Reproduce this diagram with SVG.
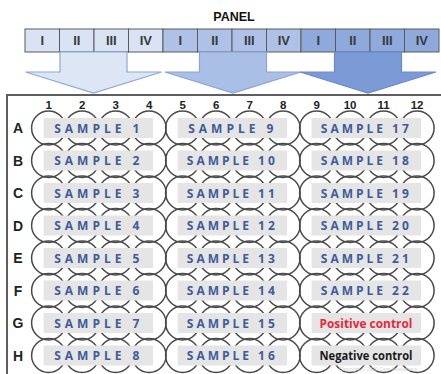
<svg xmlns="http://www.w3.org/2000/svg" width="441" height="374" viewBox="0 0 441 374">
<style>
.cell{stroke:#5a5a5a;stroke-width:1}
.c1{fill:#dae3f3}.c2{fill:#adc2e6}.c3{fill:#8ea9db}
.rn{font-family:"Liberation Sans",Arial,sans-serif;font-size:13px;font-weight:700;fill:#3a3a3a;text-anchor:middle}
.title{font-family:"Liberation Sans",Arial,sans-serif;font-size:12.5px;font-weight:700;fill:#111;text-anchor:middle}
.col{font-family:"Liberation Sans",Arial,sans-serif;font-size:11.5px;font-weight:700;fill:#222;text-anchor:middle}
.row{font-family:"Liberation Sans",Arial,sans-serif;font-size:14px;font-weight:700;fill:#222;text-anchor:middle}
.well{fill:none;stroke:#4a4a4a;stroke-width:1.5}
.lab{fill:#e5e5e5}
.st{font-family:"Open Sans","Liberation Sans",sans-serif;font-size:12px;font-weight:700;fill:#3e5c9c;text-anchor:middle}
.pos{font-family:"Open Sans","Liberation Sans",sans-serif;font-size:12.5px;font-weight:700;fill:#e8283a;text-anchor:middle}
.neg{font-family:"Open Sans","Liberation Sans",sans-serif;font-size:12.5px;font-weight:700;fill:#1a1a1a;text-anchor:middle}
.arr{stroke-width:1.2}
</style>
<defs>
<circle id="w" r="17" class="well"/>
</defs>
<rect width="441" height="374" fill="#fff"/>
<text class="title" x="234" y="21">PANEL</text>
<g id="panel-bar">
<rect class="cell c1" x="25" y="29" width="34.5" height="23"/>
<rect class="cell c1" x="59.5" y="29" width="34.5" height="23"/>
<rect class="cell c1" x="94" y="29" width="34.5" height="23"/>
<rect class="cell c1" x="128.5" y="29" width="34.5" height="23"/>
<rect class="cell c2" x="163" y="29" width="34.5" height="23"/>
<rect class="cell c2" x="197.5" y="29" width="34.5" height="23"/>
<rect class="cell c2" x="232" y="29" width="34.5" height="23"/>
<rect class="cell c2" x="266.5" y="29" width="34.5" height="23"/>
<rect class="cell c3" x="301" y="29" width="34.5" height="23"/>
<rect class="cell c3" x="335.5" y="29" width="34.5" height="23"/>
<rect class="cell c3" x="370" y="29" width="34.5" height="23"/>
<rect class="cell c3" x="404.5" y="29" width="34.5" height="23"/>
<text class="rn" x="42.3" y="45">I</text>
<text class="rn" x="76.8" y="45">II</text>
<text class="rn" x="111.3" y="45">III</text>
<text class="rn" x="145.8" y="45">IV</text>
<text class="rn" x="180.3" y="45">I</text>
<text class="rn" x="214.8" y="45">II</text>
<text class="rn" x="249.3" y="45">III</text>
<text class="rn" x="283.8" y="45">IV</text>
<text class="rn" x="318.3" y="45">I</text>
<text class="rn" x="352.8" y="45">II</text>
<text class="rn" x="387.3" y="45">III</text>
<text class="rn" x="421.8" y="45">IV</text>
</g>
<g id="connectors">
<path class="arr" fill="#dce6f5" stroke="#8ea8d8" d="M60,52 L127,52 L127,72 L161.5,72 L93.5,93 L25.5,72 L60,72 Z"/>
<path class="arr" fill="#a9bfe6" stroke="#89a4d6" d="M199.5,52 L266.5,52 L266.5,72 L301,72 L233,93 L165,72 L199.5,72 Z"/>
<path class="arr" fill="#7b9ad6" stroke="#6b8bcb" d="M334.5,52 L401.5,52 L401.5,72 L436,72 L368,93 L300,72 L334.5,72 Z"/>
</g>
<rect x="7" y="95" width="440" height="300" fill="none" stroke="#5e5e5e" stroke-width="2"/>
<g id="col-numbers">
<text class="col" x="48.6" y="109">1</text>
<text class="col" x="82.1" y="109">2</text>
<text class="col" x="115.6" y="109">3</text>
<text class="col" x="149.1" y="109">4</text>
<text class="col" x="182.6" y="109">5</text>
<text class="col" x="216.1" y="109">6</text>
<text class="col" x="249.6" y="109">7</text>
<text class="col" x="283.1" y="109">8</text>
<text class="col" x="316.6" y="109">9</text>
<text class="col" x="350.1" y="109">10</text>
<text class="col" x="383.6" y="109">11</text>
<text class="col" x="417.1" y="109">12</text>
</g>
<g id="row-letters">
<text class="row" x="18" y="133">A</text>
<text class="row" x="18" y="165.5">B</text>
<text class="row" x="18" y="198">C</text>
<text class="row" x="18" y="230.5">D</text>
<text class="row" x="18" y="263">E</text>
<text class="row" x="18" y="295.5">F</text>
<text class="row" x="18" y="328">G</text>
<text class="row" x="18" y="360.5">H</text>
</g>
<g id="wells">
<g transform="translate(0,128)"><use href="#w" x="48.6"/><use href="#w" x="82.1"/><use href="#w" x="115.6"/><use href="#w" x="149.1"/><use href="#w" x="182.6"/><use href="#w" x="216.1"/><use href="#w" x="249.6"/><use href="#w" x="283.1"/><use href="#w" x="316.6"/><use href="#w" x="350.1"/><use href="#w" x="383.6"/><use href="#w" x="417.1"/></g>
<g transform="translate(0,160.5)"><use href="#w" x="48.6"/><use href="#w" x="82.1"/><use href="#w" x="115.6"/><use href="#w" x="149.1"/><use href="#w" x="182.6"/><use href="#w" x="216.1"/><use href="#w" x="249.6"/><use href="#w" x="283.1"/><use href="#w" x="316.6"/><use href="#w" x="350.1"/><use href="#w" x="383.6"/><use href="#w" x="417.1"/></g>
<g transform="translate(0,193)"><use href="#w" x="48.6"/><use href="#w" x="82.1"/><use href="#w" x="115.6"/><use href="#w" x="149.1"/><use href="#w" x="182.6"/><use href="#w" x="216.1"/><use href="#w" x="249.6"/><use href="#w" x="283.1"/><use href="#w" x="316.6"/><use href="#w" x="350.1"/><use href="#w" x="383.6"/><use href="#w" x="417.1"/></g>
<g transform="translate(0,225.5)"><use href="#w" x="48.6"/><use href="#w" x="82.1"/><use href="#w" x="115.6"/><use href="#w" x="149.1"/><use href="#w" x="182.6"/><use href="#w" x="216.1"/><use href="#w" x="249.6"/><use href="#w" x="283.1"/><use href="#w" x="316.6"/><use href="#w" x="350.1"/><use href="#w" x="383.6"/><use href="#w" x="417.1"/></g>
<g transform="translate(0,258)"><use href="#w" x="48.6"/><use href="#w" x="82.1"/><use href="#w" x="115.6"/><use href="#w" x="149.1"/><use href="#w" x="182.6"/><use href="#w" x="216.1"/><use href="#w" x="249.6"/><use href="#w" x="283.1"/><use href="#w" x="316.6"/><use href="#w" x="350.1"/><use href="#w" x="383.6"/><use href="#w" x="417.1"/></g>
<g transform="translate(0,290.5)"><use href="#w" x="48.6"/><use href="#w" x="82.1"/><use href="#w" x="115.6"/><use href="#w" x="149.1"/><use href="#w" x="182.6"/><use href="#w" x="216.1"/><use href="#w" x="249.6"/><use href="#w" x="283.1"/><use href="#w" x="316.6"/><use href="#w" x="350.1"/><use href="#w" x="383.6"/><use href="#w" x="417.1"/></g>
<g transform="translate(0,323)"><use href="#w" x="48.6"/><use href="#w" x="82.1"/><use href="#w" x="115.6"/><use href="#w" x="149.1"/><use href="#w" x="182.6"/><use href="#w" x="216.1"/><use href="#w" x="249.6"/><use href="#w" x="283.1"/><use href="#w" x="316.6"/><use href="#w" x="350.1"/><use href="#w" x="383.6"/><use href="#w" x="417.1"/></g>
<g transform="translate(0,355.5)"><use href="#w" x="48.6"/><use href="#w" x="82.1"/><use href="#w" x="115.6"/><use href="#w" x="149.1"/><use href="#w" x="182.6"/><use href="#w" x="216.1"/><use href="#w" x="249.6"/><use href="#w" x="283.1"/><use href="#w" x="316.6"/><use href="#w" x="350.1"/><use href="#w" x="383.6"/><use href="#w" x="417.1"/></g>
</g>
<g id="sample-1"><rect class="lab" x="43.6" y="118" width="109.5" height="20"/><text class="st" x="96.8" y="132.5" textLength="85" lengthAdjust="spacing">SAMPLE 1</text></g>
<g id="sample-2"><rect class="lab" x="43.6" y="150.5" width="109.5" height="20"/><text class="st" x="96.8" y="165" textLength="85" lengthAdjust="spacing">SAMPLE 2</text></g>
<g id="sample-3"><rect class="lab" x="43.6" y="183" width="109.5" height="20"/><text class="st" x="96.8" y="197.5" textLength="85" lengthAdjust="spacing">SAMPLE 3</text></g>
<g id="sample-4"><rect class="lab" x="43.6" y="215.5" width="109.5" height="20"/><text class="st" x="96.8" y="230" textLength="85" lengthAdjust="spacing">SAMPLE 4</text></g>
<g id="sample-5"><rect class="lab" x="43.6" y="248" width="109.5" height="20"/><text class="st" x="96.8" y="262.5" textLength="85" lengthAdjust="spacing">SAMPLE 5</text></g>
<g id="sample-6"><rect class="lab" x="43.6" y="280.5" width="109.5" height="20"/><text class="st" x="96.8" y="295" textLength="85" lengthAdjust="spacing">SAMPLE 6</text></g>
<g id="sample-7"><rect class="lab" x="43.6" y="313" width="109.5" height="20"/><text class="st" x="96.8" y="327.5" textLength="85" lengthAdjust="spacing">SAMPLE 7</text></g>
<g id="sample-8"><rect class="lab" x="43.6" y="345.5" width="109.5" height="20"/><text class="st" x="96.8" y="360" textLength="85" lengthAdjust="spacing">SAMPLE 8</text></g>
<g id="sample-9"><rect class="lab" x="177.6" y="118" width="109.5" height="20"/><text class="st" x="230.8" y="132.5" textLength="85" lengthAdjust="spacing">SAMPLE 9</text></g>
<g id="sample-10"><rect class="lab" x="177.6" y="150.5" width="109.5" height="20"/><text class="st" x="230.8" y="165" textLength="88" lengthAdjust="spacing">SAMPLE 10</text></g>
<g id="sample-11"><rect class="lab" x="177.6" y="183" width="109.5" height="20"/><text class="st" x="230.8" y="197.5" textLength="88" lengthAdjust="spacing">SAMPLE 11</text></g>
<g id="sample-12"><rect class="lab" x="177.6" y="215.5" width="109.5" height="20"/><text class="st" x="230.8" y="230" textLength="88" lengthAdjust="spacing">SAMPLE 12</text></g>
<g id="sample-13"><rect class="lab" x="177.6" y="248" width="109.5" height="20"/><text class="st" x="230.8" y="262.5" textLength="88" lengthAdjust="spacing">SAMPLE 13</text></g>
<g id="sample-14"><rect class="lab" x="177.6" y="280.5" width="109.5" height="20"/><text class="st" x="230.8" y="295" textLength="88" lengthAdjust="spacing">SAMPLE 14</text></g>
<g id="sample-15"><rect class="lab" x="177.6" y="313" width="109.5" height="20"/><text class="st" x="230.8" y="327.5" textLength="88" lengthAdjust="spacing">SAMPLE 15</text></g>
<g id="sample-16"><rect class="lab" x="177.6" y="345.5" width="109.5" height="20"/><text class="st" x="230.8" y="360" textLength="88" lengthAdjust="spacing">SAMPLE 16</text></g>
<g id="sample-17"><rect class="lab" x="311.6" y="118" width="109.5" height="20"/><text class="st" x="364.8" y="132.5" textLength="88" lengthAdjust="spacing">SAMPLE 17</text></g>
<g id="sample-18"><rect class="lab" x="311.6" y="150.5" width="109.5" height="20"/><text class="st" x="364.8" y="165" textLength="88" lengthAdjust="spacing">SAMPLE 18</text></g>
<g id="sample-19"><rect class="lab" x="311.6" y="183" width="109.5" height="20"/><text class="st" x="364.8" y="197.5" textLength="88" lengthAdjust="spacing">SAMPLE 19</text></g>
<g id="sample-20"><rect class="lab" x="311.6" y="215.5" width="109.5" height="20"/><text class="st" x="364.8" y="230" textLength="88" lengthAdjust="spacing">SAMPLE 20</text></g>
<g id="sample-21"><rect class="lab" x="311.6" y="248" width="109.5" height="20"/><text class="st" x="364.8" y="262.5" textLength="88" lengthAdjust="spacing">SAMPLE 21</text></g>
<g id="sample-22"><rect class="lab" x="311.6" y="280.5" width="109.5" height="20"/><text class="st" x="364.8" y="295" textLength="88" lengthAdjust="spacing">SAMPLE 22</text></g>
<g id="positive-control"><rect class="lab" x="311.6" y="313" width="109.5" height="20"/><text class="pos" x="366" y="327.5" textLength="93" lengthAdjust="spacingAndGlyphs">Positive control</text></g>
<g id="negative-control"><rect class="lab" x="311.6" y="345.5" width="109.5" height="20"/><text class="neg" x="366" y="360" textLength="93" lengthAdjust="spacingAndGlyphs">Negative control</text></g>
<text x="378" y="371" font-family="Liberation Sans,Arial,sans-serif" font-size="5" fill="#d2d2d2" text-anchor="middle">Copyright © 2020 Cera Innovations</text>
</svg>
